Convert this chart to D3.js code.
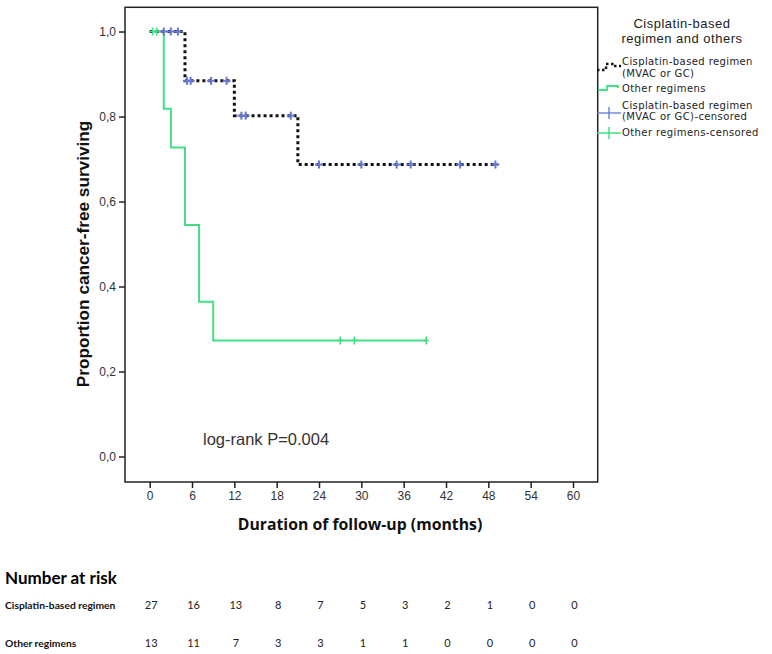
<!DOCTYPE html>
<html>
<head>
<meta charset="utf-8">
<script src="https://cdn.jsdelivr.net/npm/d3@7"></script>
<style>
  html, body { margin: 0; padding: 0; background: #fff; }
  svg { display: block; }
</style>
</head>
<body>
<svg id="chart" width="772" height="654"></svg>
<script>
// ---------------- data ----------------
const timeTicks = [0, 6, 12, 18, 24, 30, 36, 42, 48, 54, 60];
const survTicks = [0.0, 0.2, 0.4, 0.6, 0.8, 1.0];

// Cisplatin-based regimen: event times and survival after each event
const cisEventTimes = [0, 5, 12, 21];
const cisEventSurv  = [1.0, 0.884, 0.802, 0.687];
const cisEndTime = 49.3;
const cisCensorTimes = [2, 3, 4, 5.3, 5.8, 8.7, 10.9, 13, 13.6, 20, 24, 30, 35, 37, 44, 49];

// Other regimens
const othEventTimes = [0, 2, 3, 5, 7, 9];
const othEventSurv  = [1.0, 0.818, 0.727, 0.545, 0.364, 0.273];
const othEndTime = 39.2;
const othCensorTimes = [0.4, 1.0, 27, 29, 39.2];

// Number at risk
const riskLabels = ["Cisplatin-based regimen", "Other regimens"];
const riskCis   = [27, 16, 13, 8, 7, 5, 3, 2, 1, 0, 0];
const riskOther = [13, 11, 7, 3, 3, 1, 1, 0, 0, 0, 0];

const legendTitle = ["Cisplatin-based", "regimen and others"];
const pValueText = "log-rank P=0.004";

// ---------------- drawing ----------------
(function () {
const svg = d3.select("#chart");
const pL = 125, pR = 597.7, pT = 7.3, pB = 482;

const x = d3.scaleLinear().domain([-3.5, 63.5]).range([pL, pR]);
const y = d3.scaleLinear().domain([-0.06, 1.057]).range([pB, pT]);

const BLACK = "#111";
const GREEN = "#43de85";
const BLUE = "#6577d2";
const AX = "#222";

function steps(times, surv, end) {
  const pts = times.map((t, i) => ({ t, s: surv[i] }));
  pts.push({ t: end, s: surv[surv.length - 1] });
  return pts;
}
function survAt(times, surv, t) {
  let s = surv[0];
  for (let i = 0; i < times.length; i++) if (times[i] <= t) s = surv[i];
  return s;
}
const line = d3.line().x(d => x(d.t)).y(d => y(d.s)).curve(d3.curveStepAfter);

// axes
const yAxis = d3.axisLeft(y).tickValues(survTicks)
  .tickFormat(d => d3.format(".1f")(d).replace(".", ","))
  .tickSize(6).tickSizeOuter(0);
const xAxis = d3.axisBottom(x).tickValues(timeTicks).tickFormat(d3.format("d"))
  .tickSize(6).tickSizeOuter(0);

const gy = svg.append("g").attr("transform", `translate(${pL},0)`).call(yAxis);
const gx = svg.append("g").attr("transform", `translate(0,${pB})`).call(xAxis);
[gy, gx].forEach(g => {
  g.select(".domain").remove();
  g.selectAll(".tick line").attr("stroke", AX).attr("stroke-width", 1.5);
  g.selectAll(".tick text").attr("fill", "#333")
    .style("font-family", "'Liberation Sans', Arial, sans-serif").style("font-size", "12px");
});
gy.selectAll(".tick text").attr("x", -9);
gx.selectAll(".tick text").attr("y", 9);

// frame
svg.append("rect").attr("x", pL).attr("y", pT)
  .attr("width", pR - pL).attr("height", pB - pT)
  .attr("fill", "none").attr("stroke", AX).attr("stroke-width", 1.5);

// curves
svg.append("path").datum(steps(othEventTimes, othEventSurv, othEndTime))
  .attr("d", line).attr("fill", "none").attr("stroke", GREEN).attr("stroke-width", 2);
svg.append("path").datum(steps(cisEventTimes, cisEventSurv, cisEndTime))
  .attr("d", line).attr("fill", "none").attr("stroke", BLACK).attr("stroke-width", 3)
  .attr("stroke-dasharray", "3 3");

// censor marks
function plusMarks(times, evT, evS, color, hw, vh, sw) {
  const g = svg.append("g");
  times.forEach(t => {
    const cx = x(t), cy = y(survAt(evT, evS, t));
    g.append("line").attr("x1", cx - hw).attr("x2", cx + hw).attr("y1", cy).attr("y2", cy)
      .attr("stroke", color).attr("stroke-width", sw);
    g.append("line").attr("x1", cx).attr("x2", cx).attr("y1", cy - vh).attr("y2", cy + vh)
      .attr("stroke", color).attr("stroke-width", sw);
  });
}
plusMarks(cisCensorTimes, cisEventTimes, cisEventSurv, BLUE, 4, 4, 2);
plusMarks(othCensorTimes, othEventTimes, othEventSurv, GREEN, 2.5, 4, 1.6);

// axis titles
svg.append("text")
  .attr("transform", `translate(89,254) rotate(-90)`)
  .attr("text-anchor", "middle").attr("fill", "#111")
  .style("font-family", "'Liberation Sans', Arial, sans-serif")
  .style("font-weight", "bold").style("font-size", "17.2px")
  .text("Proportion cancer-free surviving");

svg.append("text")
  .attr("x", 360).attr("y", 530)
  .attr("text-anchor", "middle").attr("fill", "#111")
  .style("font-family", "'Open Sans', sans-serif")
  .style("font-weight", "bold").style("font-size", "15.8px")
  .text("Duration of follow-up (months)");

// p-value
svg.append("text").attr("x", 203).attr("y", 445).attr("fill", "#333")
  .style("font-family", "'Liberation Sans', Arial, sans-serif").style("font-size", "16.5px")
  .text(pValueText);

// legend
const lg = svg.append("g");
lg.selectAll("text.lt").data(legendTitle).join("text").attr("class", "lt")
  .attr("x", 682).attr("y", (d, i) => 28 + i * 15)
  .attr("text-anchor", "middle").attr("fill", "#222")
  .style("font-family", "'Liberation Sans', Arial, sans-serif").style("font-size", "13px")
  .style("letter-spacing", "0.5px")
  .text(d => d);

const legItems = [
  { lines: ["Cisplatin-based regimen", "(MVAC or GC)"], y0: 65 },
  { lines: ["Other regimens"], y0: 92 },
  { lines: ["Cisplatin-based regimen", "(MVAC or GC)-censored"], y0: 108.5 },
  { lines: ["Other regimens-censored"], y0: 136 }
];
legItems.forEach(it => {
  it.lines.forEach((l, i) => {
    lg.append("text").attr("x", 622).attr("y", it.y0 + i * 11.6).attr("fill", "#222")
      .style("font-family", "'DejaVu Sans', sans-serif").style("font-size", "10px")
      .style("letter-spacing", "0.4px")
      .text(l);
  });
});
// legend symbols
lg.append("path").attr("d", "M597,70 H606 V64 H614 V66 H621")
  .attr("fill", "none").attr("stroke", BLACK).attr("stroke-width", 2.5).attr("stroke-dasharray", "2.5 2.5");
lg.append("path").attr("d", "M598,90 H607 V86 H618 V88")
  .attr("fill", "none").attr("stroke", GREEN).attr("stroke-width", 1.8);
lg.append("line").attr("x1", 597).attr("x2", 621).attr("y1", 113).attr("y2", 113)
  .attr("stroke", BLUE).attr("stroke-width", 1.3);
lg.append("line").attr("x1", 609).attr("x2", 609).attr("y1", 107).attr("y2", 119)
  .attr("stroke", BLUE).attr("stroke-width", 1.3);
lg.append("line").attr("x1", 597).attr("x2", 621).attr("y1", 133).attr("y2", 133)
  .attr("stroke", GREEN).attr("stroke-width", 1.5);
lg.append("line").attr("x1", 609).attr("x2", 609).attr("y1", 127).attr("y2", 139)
  .attr("stroke", GREEN).attr("stroke-width", 1.5);

// number at risk table
const tf = "Lato, 'Open Sans', sans-serif";
svg.append("text").attr("x", 5).attr("y", 584).attr("fill", "#000")
  .style("font-family", tf).style("font-weight", "bold").style("font-size", "17px")
  .text("Number at risk");
const rows = [riskCis, riskOther];
const rowY = [609, 647];
rows.forEach((vals, r) => {
  svg.append("text").attr("x", 5).attr("y", rowY[r]).attr("fill", "#111")
    .style("font-family", tf).style("font-size", "10.3px").style("font-weight", "bold")
    .text(riskLabels[r]);
  svg.append("g").selectAll("text").data(vals).join("text")
    .attr("x", (d, i) => x(timeTicks[i]) + 1.5).attr("y", rowY[r])
    .attr("text-anchor", "middle").attr("fill", "#222")
    .style("font-family", tf).style("font-size", "11px")
    .text(d => d);
});
})();
</script>
</body>
</html>
